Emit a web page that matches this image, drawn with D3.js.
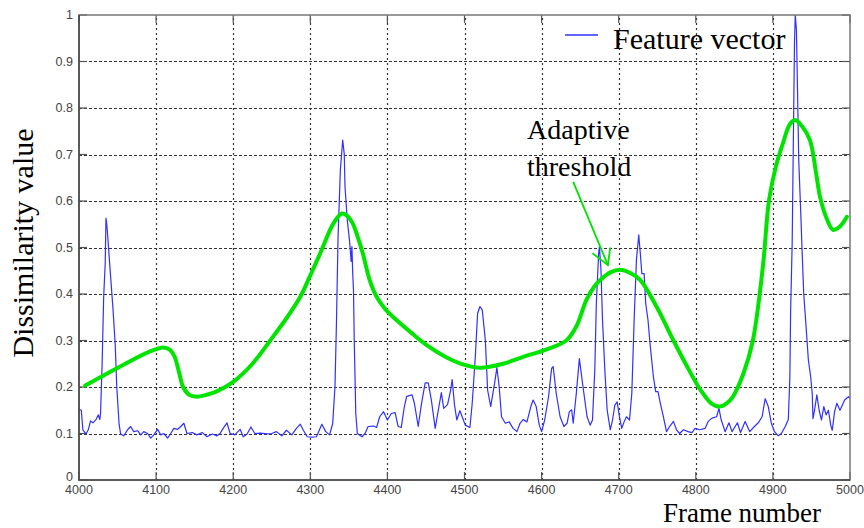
<!DOCTYPE html>
<html>
<head>
<meta charset="utf-8">
<script src="https://cdn.jsdelivr.net/npm/d3@7"></script>
<style>
    body { margin: 0; background: #fff; }
    svg { display: block; }
    .tick-label { font-family: "Liberation Sans", Arial, sans-serif; font-size: 12.5px; fill: #444; }
    .serif { font-family: "Liberation Serif", "Times New Roman", serif; fill: #000; }
</style>
</head>
<body>
<svg id="chart" width="864" height="528"></svg>
<script>
// feature vector (blue)
var featureFrames = [4000, 4003, 4005, 4009, 4012, 4015, 4018, 4022, 4025, 4027, 4028, 4030, 4032, 4034, 4035, 4036, 4037, 4040, 4044, 4047, 4049, 4052, 4054,
    4058, 4063, 4067, 4071, 4076, 4080, 4084, 4089, 4093, 4097, 4102, 4106, 4110, 4115, 4119, 4123, 4128, 4132, 4136, 4140, 4147, 4153, 4160, 4166, 4173, 4179,
    4183, 4187, 4192, 4196, 4202, 4209, 4213, 4218, 4223, 4228, 4235, 4244, 4250, 4256, 4263, 4269, 4276, 4282, 4287, 4291, 4296, 4302, 4308, 4315, 4320, 4325,
    4329, 4332, 4334, 4336, 4339, 4342, 4344, 4345, 4348, 4351, 4353, 4354, 4355, 4356, 4357, 4359, 4361, 4367, 4371, 4375, 4382, 4386, 4390, 4395, 4400, 4405,
    4410, 4414, 4418, 4422, 4425, 4432, 4435, 4440, 4444, 4449, 4453, 4457, 4462, 4466, 4470, 4473, 4478, 4482, 4484, 4487, 4490, 4494, 4497, 4501, 4507, 4510,
    4514, 4517, 4520, 4523, 4527, 4530, 4534, 4539, 4542, 4545, 4548, 4553, 4558, 4563, 4568, 4572, 4576, 4581, 4586, 4589, 4593, 4597, 4600, 4604, 4609, 4613,
    4615, 4619, 4624, 4629, 4633, 4636, 4639, 4641, 4645, 4649, 4652, 4656, 4659, 4663, 4666, 4669, 4671, 4674, 4675, 4677, 4679, 4682, 4685, 4689, 4692, 4695,
    4698, 4701, 4704, 4707, 4710, 4714, 4717, 4720, 4723, 4726, 4728, 4730, 4733, 4735, 4738, 4741, 4745, 4748, 4751, 4754, 4758, 4762, 4766, 4771, 4775, 4779,
    4784, 4790, 4795, 4799, 4805, 4812, 4816, 4821, 4827, 4830, 4833, 4838, 4843, 4847, 4854, 4858, 4864, 4870, 4876, 4881, 4886, 4890, 4894, 4898, 4902, 4907,
    4911, 4916, 4920, 4922, 4923, 4925, 4926, 4927, 4928, 4929, 4930.5, 4932, 4933.5, 4936, 4937.5, 4940, 4943, 4946, 4949, 4951, 4952, 4954, 4957, 4960, 4963,
    4966, 4969, 4972, 4975, 4977, 4980, 4983, 4987, 4990, 4993, 4998, 5000];
var featureValues = [0.152, 0.15, 0.108, 0.099, 0.108, 0.127, 0.123, 0.13, 0.14, 0.13, 0.145, 0.25, 0.394, 0.466, 0.563, 0.55, 0.53, 0.46, 0.37, 0.29, 0.2, 0.12, 0.099,
    0.095, 0.108, 0.115, 0.104, 0.106, 0.097, 0.104, 0.1, 0.09, 0.097, 0.109, 0.097, 0.1, 0.09, 0.1, 0.111, 0.109, 0.115, 0.122, 0.1, 0.102, 0.097, 0.102, 0.093, 0.099, 0.095,
    0.1, 0.111, 0.123, 0.1, 0.097, 0.109, 0.093, 0.099, 0.114, 0.1, 0.101, 0.099, 0.1, 0.104, 0.095, 0.107, 0.097, 0.111, 0.12, 0.107, 0.093, 0.092, 0.093, 0.12, 0.104, 0.097,
    0.121, 0.2, 0.344, 0.523, 0.667, 0.731, 0.702, 0.631, 0.559, 0.512, 0.47, 0.502, 0.445, 0.41, 0.3, 0.143, 0.1, 0.093, 0.1, 0.115, 0.116, 0.113, 0.136, 0.147, 0.129, 0.143,
    0.145, 0.115, 0.113, 0.158, 0.18, 0.183, 0.165, 0.115, 0.162, 0.209, 0.209, 0.172, 0.111, 0.15, 0.188, 0.154, 0.162, 0.193, 0.216, 0.162, 0.129, 0.149, 0.136, 0.118, 0.113, 0.165,
    0.265, 0.358, 0.373, 0.366, 0.301, 0.193, 0.158, 0.208, 0.242, 0.2, 0.136, 0.122, 0.125, 0.111, 0.104, 0.122, 0.13, 0.125, 0.158, 0.172, 0.158, 0.118, 0.104, 0.129, 0.179, 0.24,
    0.244, 0.186, 0.136, 0.115, 0.122, 0.147, 0.151, 0.122, 0.186, 0.261, 0.222, 0.172, 0.136, 0.118, 0.129, 0.237, 0.38, 0.488, 0.502, 0.452, 0.344, 0.237, 0.151, 0.108, 0.129, 0.161,
    0.168, 0.136, 0.111, 0.125, 0.136, 0.129, 0.186, 0.344, 0.473, 0.527, 0.488, 0.444, 0.444, 0.38, 0.344, 0.287, 0.222, 0.19, 0.19, 0.165, 0.136, 0.104, 0.115, 0.126, 0.108, 0.1,
    0.108, 0.104, 0.102, 0.111, 0.108, 0.111, 0.126, 0.133, 0.136, 0.154, 0.129, 0.104, 0.123, 0.104, 0.123, 0.102, 0.126, 0.104, 0.115, 0.123, 0.136, 0.175, 0.158, 0.122, 0.104, 0.095,
    0.1, 0.115, 0.13, 0.222, 0.365, 0.509, 0.652, 0.796, 0.939, 1.0, 0.968, 0.832, 0.688, 0.58, 0.509, 0.4, 0.33, 0.258, 0.222, 0.186, 0.132, 0.15, 0.183, 0.15, 0.129,
    0.158, 0.14, 0.15, 0.118, 0.107, 0.147, 0.165, 0.15, 0.161, 0.172, 0.179, 0.176];

// adaptive threshold (green)
var thresholdFrames = [4008, 4060, 4090, 4109, 4118, 4124, 4130, 4135, 4143, 4153, 4165, 4178, 4200, 4225, 4248, 4270, 4287, 4300, 4313, 4330, 4341, 4348, 4355,
    4362, 4368, 4377, 4386, 4396, 4407, 4430, 4451, 4475, 4494, 4520, 4550, 4576, 4605, 4632, 4645, 4658, 4668, 4676, 4690, 4702, 4715, 4728, 4750, 4771, 4790,
    4806, 4820, 4831, 4840, 4848, 4862, 4874, 4887, 4895, 4904, 4913, 4922, 4929, 4938, 4948, 4956, 4961, 4968, 4978, 4987, 4996];
var thresholdValues = [0.203, 0.25, 0.275, 0.285, 0.28, 0.265, 0.23, 0.2, 0.183, 0.179, 0.183, 0.19, 0.211, 0.25, 0.3, 0.35, 0.394, 0.44, 0.488, 0.552, 0.573, 0.568, 0.552,
    0.52, 0.488, 0.43, 0.394, 0.37, 0.351, 0.318, 0.29, 0.265, 0.251, 0.2415, 0.25, 0.265, 0.28, 0.3, 0.33, 0.387, 0.415, 0.43, 0.447, 0.452, 0.445, 0.43, 0.37, 0.3, 0.24,
    0.194, 0.165, 0.158, 0.165, 0.179, 0.23, 0.3, 0.459, 0.602, 0.675, 0.724, 0.765, 0.774, 0.76, 0.731, 0.66, 0.61, 0.57, 0.538, 0.545, 0.566];

var xTicks = [4000, 4100, 4200, 4300, 4400, 4500, 4600, 4700, 4800, 4900, 5000];
var yTicks = [0, 0.1, 0.2, 0.3, 0.4, 0.5, 0.6, 0.7, 0.8, 0.9, 1];

// arrow annotation, in data units: [frame, value]
var arrowLine = [[4641, 0.641], [4686, 0.462]];
var arrowHead = [[4666, 0.4875], [4686, 0.462], [4689, 0.5]];

function draw_chart() {
    var svg = d3.select("#chart"),
        margins = {"left": 79, "right": 14, "top": 15, "bottom": 48},
        width = 864, height = 528;

    var x = d3.scaleLinear().domain([4000, 5000]).range([margins.left, width - margins.right]),
        y = d3.scaleLinear().domain([0, 1]).range([height - margins.bottom, margins.top]);

    svg.append("defs").append("clipPath").attr("id", "plot-clip")
        .append("rect").attr("x", x(4000)).attr("y", y(1))
        .attr("width", x(5000) - x(4000)).attr("height", y(0) - y(1));

    // grid
    var grid = svg.append("g").attr("stroke", "#333").attr("stroke-width", 1.2);
    grid.selectAll(".hgrid").data(yTicks.slice(1, -1)).enter().append("line")
        .attr("x1", x(4000)).attr("x2", x(5000))
        .attr("y1", d => Math.round(y(d)) + 0.5).attr("y2", d => Math.round(y(d)) + 0.5)
        .attr("stroke-dasharray", "3,2");
    grid.selectAll(".vgrid").data(xTicks.slice(1, -1)).enter().append("line")
        .attr("y1", y(0)).attr("y2", y(1))
        .attr("x1", d => Math.round(x(d)) + 0.5).attr("x2", d => Math.round(x(d)) + 0.5)
        .attr("stroke-dasharray", "2,3");

    // inside ticks on all four sides
    var ticks = svg.append("g").attr("stroke", "#555").attr("stroke-width", 1.2);
    yTicks.forEach(d => {
        ticks.append("line").attr("x1", x(4000)).attr("x2", x(4000) + 8).attr("y1", y(d)).attr("y2", y(d));
        ticks.append("line").attr("x1", x(5000) - 8).attr("x2", x(5000)).attr("y1", y(d)).attr("y2", y(d));
    });
    xTicks.forEach(d => {
        ticks.append("line").attr("y1", y(0)).attr("y2", y(0) - 8).attr("x1", x(d)).attr("x2", x(d));
        ticks.append("line").attr("y1", y(1)).attr("y2", y(1) + 8).attr("x1", x(d)).attr("x2", x(d));
    });

    var plot = svg.append("g").attr("clip-path", "url(#plot-clip)");

    var feature = d3.line()
        .x((d, i) => x(featureFrames[i]))
        .y(d => y(d));
    plot.append("path").datum(featureValues)
        .attr("fill", "none").attr("stroke", "#3030ff").attr("stroke-width", 1.2)
        .attr("stroke-linejoin", "round").attr("d", feature);

    var threshold = d3.line()
        .x((d, i) => x(thresholdFrames[i]))
        .y(d => y(d))
        .curve(d3.curveCatmullRom);
    plot.append("path").datum(thresholdValues)
        .attr("fill", "none").attr("stroke", "#00e400").attr("stroke-width", 4)
        .attr("stroke-linecap", "round").attr("stroke-linejoin", "round").attr("d", threshold);

    // box
    svg.append("rect").attr("x", x(4000)).attr("y", y(1))
        .attr("width", x(5000) - x(4000)).attr("height", y(0) - y(1))
        .attr("fill", "none").attr("stroke", "#777").attr("stroke-width", 1.5);
    svg.append("path")
        .attr("d", "M" + [x(4000), y(1)] + "L" + [x(4000), y(0)] + "L" + [x(5000), y(0)])
        .attr("fill", "none").attr("stroke", "#444").attr("stroke-width", 1.5);

    // tick labels
    svg.append("g").selectAll("text").data(yTicks).enter().append("text")
        .classed("tick-label", true)
        .attr("x", x(4000) - 6).attr("y", d => y(d)).attr("dy", d => d === 0 ? "0.1em" : "0.35em")
        .attr("text-anchor", "end")
        .text(d => d3.format("~g")(d));
    svg.append("g").selectAll("text").data(xTicks).enter().append("text")
        .classed("tick-label", true)
        .attr("x", d => x(d)).attr("y", y(0) + 14)
        .attr("text-anchor", "middle")
        .text(d => d);

    // axis titles
    svg.append("text").classed("serif", true)
        .attr("transform", "translate(" + [33, 243] + ") rotate(-90)")
        .attr("text-anchor", "middle").style("font-size", "30px")
        .text("Dissimilarity value");
    svg.append("text").classed("serif", true)
        .attr("x", 742).attr("y", 522)
        .attr("text-anchor", "middle").style("font-size", "27px")
        .text("Frame number");

    // legend
    svg.append("line").attr("x1", 565).attr("x2", 598).attr("y1", 35).attr("y2", 35)
        .attr("stroke", "#3030ff").attr("stroke-width", 1.5);
    svg.append("text").classed("serif", true)
        .attr("x", 613).attr("y", 49).style("font-size", "30px")
        .text("Feature vector");

    // annotation
    var ann = svg.append("text").classed("serif", true).style("font-size", "28px");
    ann.append("tspan").attr("x", 527).attr("y", 139).text("Adaptive");
    ann.append("tspan").attr("x", 527).attr("y", 176).text("threshold");

    var arrow = d3.line().x(d => x(d[0])).y(d => y(d[1]));
    svg.append("path").attr("d", arrow(arrowLine))
        .attr("fill", "none").attr("stroke", "#00e400").attr("stroke-width", 1.8);
    svg.append("path").attr("d", arrow(arrowHead))
        .attr("fill", "none").attr("stroke", "#00e400").attr("stroke-width", 1.8);
}

draw_chart();
</script>
</body>
</html>
